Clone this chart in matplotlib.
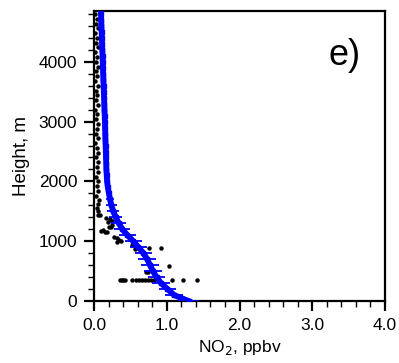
import numpy as np
import matplotlib
matplotlib.use("Agg")
import matplotlib.pyplot as plt
from matplotlib.ticker import MultipleLocator, FormatStrFormatter

plt.rcParams['font.family'] = ['Liberation Sans', 'DejaVu Sans']

# model profile (blue), NO2 in ppbv vs height in m
model_height = [0, 100, 200, 300, 400, 500, 600, 700, 800, 900,
                1000, 1100, 1200, 1300, 1400, 1500, 1600, 1700, 1800, 1900,
                2000, 2100, 2200, 2300, 2400, 2500, 2600, 2700, 2800, 2900,
                3000, 3100, 3200, 3300, 3400, 3500, 3600, 3700, 3800, 3900,
                4000, 4100, 4200, 4300, 4400, 4500, 4600, 4700, 4800]
model_no2 = [1.30, 1.10, 1.01, 0.92, 0.86, 0.81, 0.77, 0.73, 0.68, 0.61,
             0.54, 0.46, 0.39, 0.34, 0.30, 0.265, 0.24, 0.22, 0.205, 0.19,
             0.18, 0.175, 0.17, 0.168, 0.165, 0.162, 0.16, 0.157, 0.155, 0.152,
             0.15, 0.147, 0.144, 0.141, 0.138, 0.135, 0.132, 0.129, 0.126, 0.123,
             0.12, 0.117, 0.114, 0.111, 0.108, 0.105, 0.102, 0.099, 0.096]
model_err = [0.15, 0.13, 0.12, 0.12, 0.12, 0.12, 0.12, 0.12, 0.12, 0.12,
             0.12, 0.12, 0.11, 0.10, 0.09, 0.08, 0.07, 0.06, 0.04, 0.03,
             0.03, 0.02, 0.02, 0.02, 0.02, 0.02, 0.02, 0.02, 0.02, 0.02,
             0.02, 0.02, 0.02, 0.02, 0.02, 0.02, 0.02, 0.02, 0.02, 0.02,
             0.02, 0.02, 0.02, 0.02, 0.02, 0.02, 0.02, 0.02, 0.02]

# observations (black dots)
obs_height = [4800, 4720, 4640, 4560, 4480, 4400, 4320, 4240, 4160, 4080,
              4000, 3920, 3840, 3760, 3680, 3600, 3520, 3440, 3360, 3280,
              3200, 3120, 3040, 2960, 2880, 2800, 2720, 2640, 2560, 2480,
              2400, 2320, 2240, 2160, 2080, 2000, 1920, 1840, 1760, 1690,
              1620, 1560, 1500, 1440, 1440,
              1390, 1370, 1340, 1320, 1270, 1240, 1240, 1190, 1170, 1160,
              1150, 1070, 1060, 1020, 1000, 990, 940, 870, 890, 890,
              590, 490, 480,
              345, 345, 345, 345, 345, 345, 345, 345, 345, 345,
              345, 345, 345, 345, 345]
obs_no2 = [0.02, 0.04, 0.03, 0.05, 0.02, 0.04, 0.03, 0.05, 0.02, 0.04,
           0.03, 0.05, 0.03, 0.04, 0.02, 0.05, 0.03, 0.04, 0.03, 0.05,
           0.02, 0.04, 0.03, 0.05, 0.04, 0.03, 0.05, 0.02, 0.04, 0.06,
           0.03, 0.05, 0.04, 0.06, 0.03, 0.05, 0.04, 0.06, 0.03, 0.07,
           0.05, 0.04, 0.06, 0.08, 0.05,
           0.17, 0.22, 0.25, 0.19, 0.25, 0.21, 0.24, 0.12, 0.09, 0.15,
           0.18, 0.28, 0.31, 0.34, 0.37, 0.32, 0.52, 0.56, 0.75, 0.92,
           1.03, 0.72, 0.74,
           0.36, 0.38, 0.40, 0.42, 0.52, 0.58, 0.62, 0.66, 0.70, 0.74,
           0.78, 0.82, 1.07, 1.22, 1.41]

fig = plt.figure(figsize=(3.99, 3.63), dpi=100)
ax = fig.add_axes([94 / 399, 62 / 363, 291 / 399, 290 / 363])

ax.plot(obs_no2, obs_height, 'o', color='black', ms=3.2, mew=0, zorder=2)
ax.plot(model_no2, model_height, '-', color='blue', lw=4.2, zorder=3)
ax.errorbar(model_no2, model_height, xerr=model_err, fmt='s', color='blue',
            ms=3, elinewidth=1.3, capsize=0, zorder=4)

ax.set_xlim(0, 4.0)
ax.set_ylim(0, 4850)
ax.xaxis.set_major_locator(MultipleLocator(1.0))
ax.xaxis.set_minor_locator(MultipleLocator(0.2))
ax.xaxis.set_major_formatter(FormatStrFormatter('%.1f'))
ax.yaxis.set_major_locator(MultipleLocator(1000))
ax.yaxis.set_minor_locator(MultipleLocator(200))

for s in ax.spines.values():
    s.set_linewidth(1.6)
ax.tick_params(which='major', direction='out', length=7, width=1.6,
               labelsize=12.5, top=False, right=False, pad=5)
ax.tick_params(which='minor', direction='out', length=4, width=1.0,
               top=False, right=False)

ax.set_xlabel('NO$_2$, ppbv', fontsize=12.5, labelpad=4)
ax.set_ylabel('Height, m', fontsize=13.5, labelpad=6)
ax.text(0.862, 0.845, 'e)', transform=ax.transAxes, fontsize=26,
        ha='center', va='center')

fig.savefig('out.png', dpi=100)
